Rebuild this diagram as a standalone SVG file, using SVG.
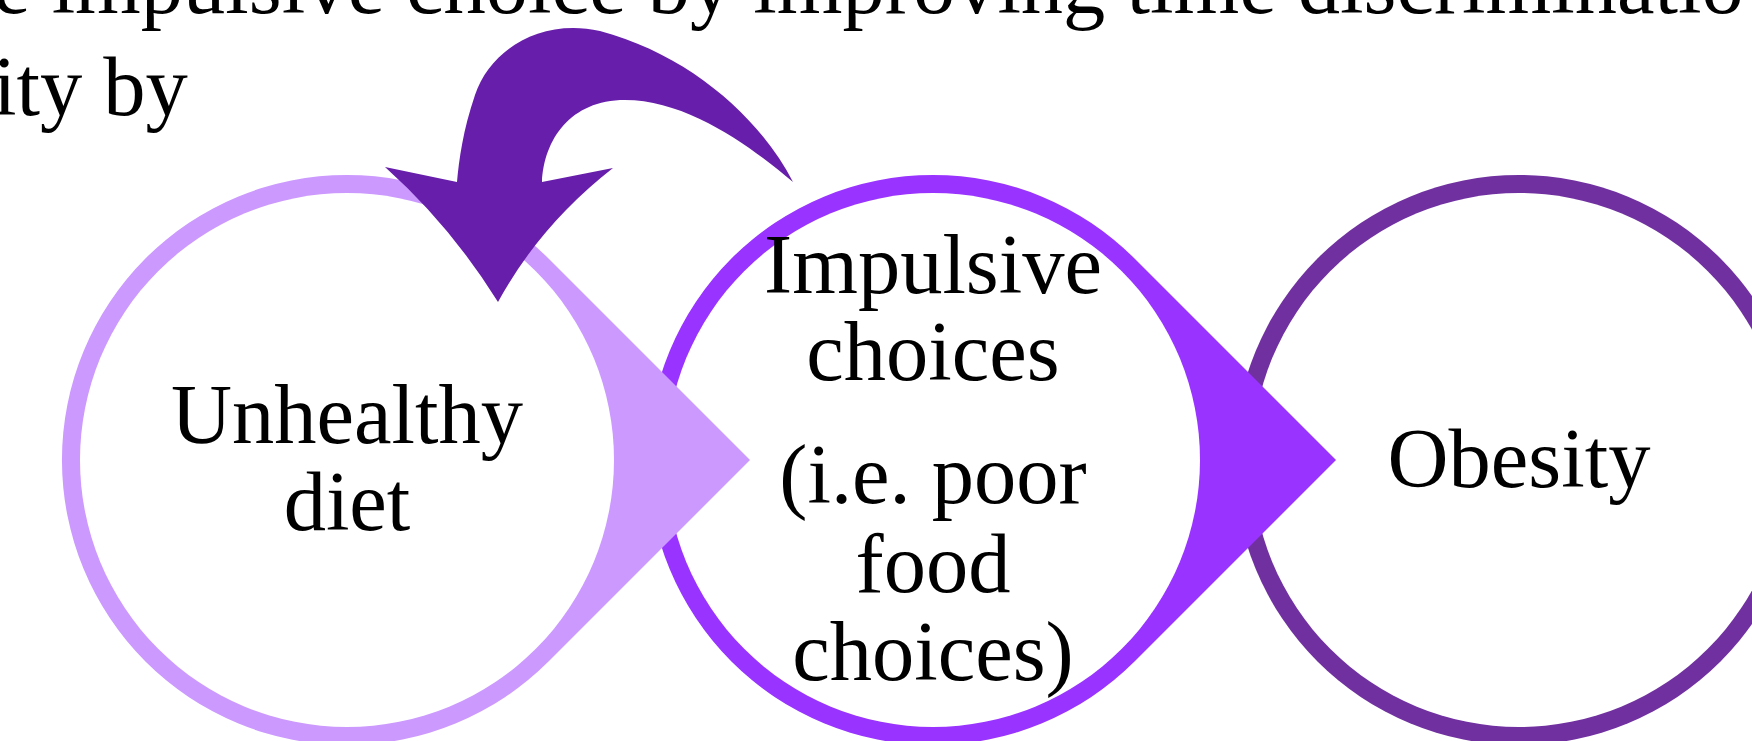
<svg xmlns="http://www.w3.org/2000/svg" width="1752" height="741" viewBox="0 0 1752 741">
  <style>
    .t { font-family: "Liberation Serif", "Times New Roman", serif; font-size: 84.5px; fill: #000; }
    .c { text-anchor: middle; }
    .inner { fill: #ffffff; }
  </style>
  <rect x="0" y="0" width="1752" height="741" fill="#ffffff"/>

  <g id="page-text">
    <text class="t" x="-7" y="13">e impulsive choice by improving time discriminatio</text>
    <text class="t" x="-7" y="115">ity by</text>
  </g>

  <g id="node-obesity">
    <circle cx="1519" cy="460" r="285" fill="#7030A0"/>
    <circle class="inner" cx="1519" cy="460" r="267"/>
  </g>

  <g id="node-impulsive">
    <path d="M1134.5,258.5 L1336,460 L1134.5,661.5 A285,285 0 1 1 1134.5,258.5 Z" fill="#9933FF"/>
    <circle class="inner" cx="933" cy="460" r="267"/>
  </g>

  <g id="node-unhealthy">
    <path d="M548.5,258.5 L750,460 L548.5,661.5 A285,285 0 1 1 548.5,258.5 Z" fill="#CC99FF"/>
    <circle class="inner" cx="347" cy="460" r="267"/>
  </g>

  <g id="connectors">
    <path d="M793,182 C760,118 690,55 600,31 C540,18 490,50 475,95 C463,130 459,160 457,182 L385,167 Q450,225 498,302 Q540,225 613,168 L542,182 C544,140 570,100 625,100 C690,100 755,150 793,182 Z" fill="#671EAB"/>
  </g>

  <g id="labels">
    <text class="t c" x="347" y="443">Unhealthy</text>
    <text class="t c" x="347" y="530">diet</text>
    <text class="t c" x="933" y="293">Impulsive</text>
    <text class="t c" x="933" y="380">choices</text>
    <text class="t c" x="933" y="503">(i.e. poor</text>
    <text class="t c" x="933" y="592">food</text>
    <text class="t c" x="933" y="680">choices)</text>
    <text class="t c" x="1519" y="487">Obesity</text>
  </g>
</svg>
